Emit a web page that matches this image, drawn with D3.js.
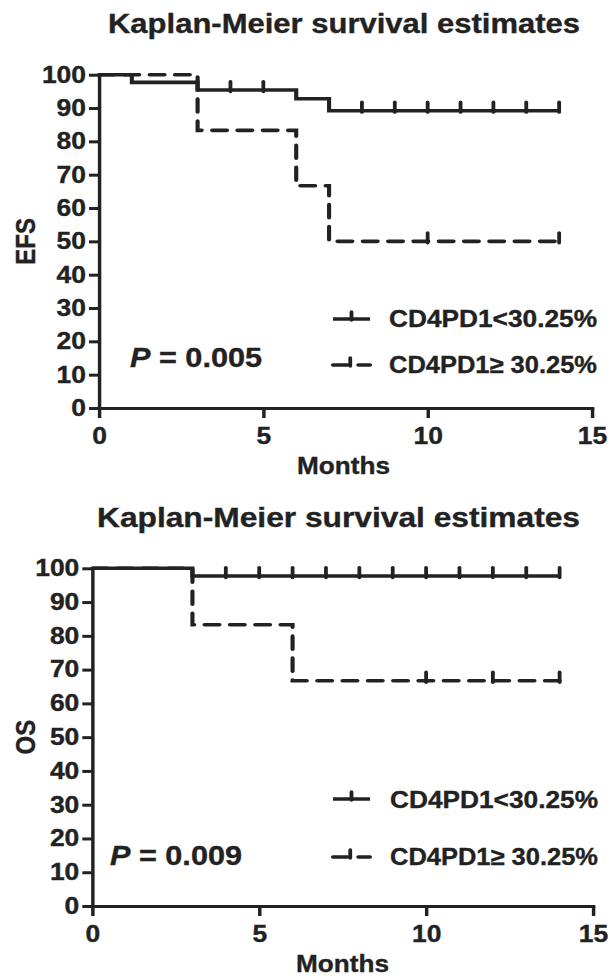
<!DOCTYPE html>
<html>
<head>
<meta charset="utf-8">
<script src="https://cdn.jsdelivr.net/npm/d3@7"></script>
<style>
  html, body { margin: 0; padding: 0; background: #fff; }
  svg { display: block; }
</style>
</head>
<body>
<svg id="chart"></svg>
<script>
// ---------------- DATA ----------------
const chartTitle = "Kaplan-Meier survival estimates";
const yLabels = ["EFS", "OS"];
const xLabel = "Months";
const legendLabels = ["CD4PD1<30.25%", "CD4PD1\u2265 30.25%"];
const pValues = ["0.005", "0.009"];
const xTicks = [0, 5, 10, 15];
const yTicks = [0, 10, 20, 30, 40, 50, 60, 70, 80, 90, 100];

// EFS, CD4PD1 < 30.25%
const efsLowTime   = [0, 1, 3, 6, 7, 14];
const efsLowSurv   = [100, 97.7, 95.4, 92.8, 89.2, 89.2];
const efsLowCensor = [4, 5, 8, 9, 10, 11, 12, 13, 14];
// EFS, CD4PD1 >= 30.25%
const efsHighTime   = [0, 3, 6, 7, 14];
const efsHighSurv   = [100, 83.3, 66.7, 50, 50];
const efsHighCensor = [10, 14];
// OS, CD4PD1 < 30.25%
const osLowTime   = [0, 3, 14];
const osLowSurv   = [100, 97.7, 97.7];
const osLowCensor = [4, 5, 6, 7, 8, 9, 10, 11, 12, 13, 14];
// OS, CD4PD1 >= 30.25%
const osHighTime   = [0, 3, 6, 14];
const osHighSurv   = [100, 83.3, 66.7, 66.7];
const osHighCensor = [10, 12, 14];

// ---------------- LAYOUT ----------------
const S = 1.15;                 // horizontal stretch of the original figure
const W = 616 / S, H = 980;
const X = px => px / S;
const INK = "#222";
const FONT = "'Liberation Sans', Arial, Helvetica, sans-serif";

const panels = [
  { ylabel: yLabels[0], p: pValues[0],
    series: [
      { time: efsLowTime, surv: efsLowSurv, censor: efsLowCensor, dashed: false },
      { time: efsHighTime, surv: efsHighSurv, censor: efsHighCensor, dashed: true }
    ],
    L: { x0: 99, x1: 592, yTop: 74.7, yBot: 408, titleX: 108, titleW: 472, titleY: 33, ylabX: 25,
         monthsX: 297, monthsW: 93, monthsY: 474, legY: [319, 365], legTextY: [327, 373],
         legX0: 333, legX1: 370, legTextX: 389, legTextW: 208, pX: 130, pW: 132, pY: 367 } },
  { ylabel: yLabels[1], p: pValues[1],
    series: [
      { time: osLowTime, surv: osLowSurv, censor: osLowCensor, dashed: false },
      { time: osHighTime, surv: osHighSurv, censor: osHighCensor, dashed: true }
    ],
    L: { x0: 92.3, x1: 593, yTop: 568.3, yBot: 906, titleX: 97, titleW: 483, titleY: 527, ylabX: 25,
         monthsX: 296, monthsW: 93, monthsY: 972, legY: [799, 857], legTextY: [808, 865],
         legX0: 333, legX1: 370, legTextX: 390, legTextW: 208, pX: 110, pW: 132, pY: 865 } }
];

const svg = d3.select("#chart")
  .attr("width", 616).attr("height", 980)
  .attr("viewBox", `0 0 ${W} ${H}`)
  .attr("preserveAspectRatio", "none");

const DASH = "13,9";
const LW = 3.6;
const TXT_STROKE = 0.35;

function addText(g, xpx, ypx, widthPx, size, str) {
  const t = g.append("text").attr("x", X(xpx)).attr("y", ypx)
    .attr("font-family", FONT).attr("font-weight", "bold").attr("font-size", size)
    .attr("fill", INK).attr("stroke", INK).attr("stroke-width", TXT_STROKE);
  if (widthPx) t.attr("textLength", X(widthPx)).attr("lengthAdjust", "spacingAndGlyphs");
  if (str !== null) t.text(str);
  return t;
}

panels.forEach(panel => {
  const L = panel.L;
  const x = d3.scaleLinear().domain([0, 15]).range([X(L.x0), X(L.x1)]);
  const y = d3.scaleLinear().domain([0, 100]).range([L.yBot, L.yTop]);
  const g = svg.append("g");

  // title
  addText(g, L.titleX, L.titleY, L.titleW, 27, chartTitle);

  // axes
  const yAxis = g.append("g").attr("transform", `translate(${x(0)},0)`)
    .call(d3.axisLeft(y).tickValues(yTicks).tickSize(X(10)).tickSizeOuter(0).tickPadding(X(3)));
  const xAxis = g.append("g").attr("transform", `translate(0,${y(0)})`)
    .call(d3.axisBottom(x).tickValues(xTicks).tickSize(10).tickSizeOuter(0).tickPadding(6));
  [yAxis, xAxis].forEach(a => {
    a.attr("font-family", FONT).attr("font-weight", "bold").attr("font-size", 23);
    a.select(".domain").attr("stroke", INK).attr("stroke-width", 3).attr("stroke-linecap", "square");
    a.selectAll(".tick line").attr("stroke", INK).attr("stroke-width", 3);
    a.selectAll(".tick text").attr("fill", INK).attr("stroke", INK).attr("stroke-width", TXT_STROKE);
  });
  xAxis.selectAll(".tick text").attr("dy", "0.85em");

  // axis labels
  addText(g, L.monthsX, L.monthsY, L.monthsW, 24, xLabel);
  const ymid = (L.yTop + L.yBot) / 2;
  g.append("text").attr("transform", `translate(${X(L.ylabX)},${ymid}) rotate(-90)`)
    .attr("text-anchor", "middle").attr("dy", "0.35em").attr("font-family", FONT).attr("font-weight", "bold")
    .attr("font-size", 24).attr("fill", INK).attr("stroke", INK).attr("stroke-width", TXT_STROKE)
    .text(panel.ylabel);

  // curves
  const line = d3.line().curve(d3.curveStepAfter).x(d => x(d[0])).y(d => y(d[1]));
  panel.series.forEach(s => {
    const pts = s.time.map((t, i) => [t, s.surv[i]]);
    g.append("path").attr("d", line(pts)).attr("fill", "none")
      .attr("stroke", INK).attr("stroke-width", LW)
      .attr("stroke-dasharray", s.dashed ? DASH : null)
      .attr("stroke-linecap", s.dashed ? "round" : "butt")
      .attr("stroke-linejoin", "miter");
    const survAt = t => { let v = s.surv[0]; s.time.forEach((tt, i) => { if (tt <= t) v = s.surv[i]; }); return v; };
    g.selectAll(null).data(s.censor).enter().append("line")
      .attr("x1", d => x(d)).attr("x2", d => x(d))
      .attr("y1", d => y(survAt(d)) - 8.5).attr("y2", d => y(survAt(d)) + 1.5)
      .attr("stroke", INK).attr("stroke-width", X(3.8)).attr("stroke-linecap", "round");
  });

  // legend
  panel.series.forEach((s, i) => {
    const ly = L.legY[i];
    g.append("line").attr("x1", X(L.legX0)).attr("x2", X(L.legX1)).attr("y1", ly).attr("y2", ly)
      .attr("stroke", INK).attr("stroke-width", LW)
      .attr("stroke-dasharray", s.dashed ? DASH : null)
      .attr("stroke-linecap", s.dashed ? "round" : "butt");
    const mx = s.dashed ? X(L.legX0) + 15 : X((L.legX0 + L.legX1) / 2);
    g.append("line").attr("x1", mx).attr("x2", mx).attr("y1", ly - 7).attr("y2", ly + 1)
      .attr("stroke", INK).attr("stroke-width", X(3.8)).attr("stroke-linecap", "round");
    addText(g, L.legTextX, L.legTextY[i], L.legTextW, 24, legendLabels[i]);
  });

  // p-value
  const pt = addText(g, L.pX, L.pY, L.pW, 27, null);
  pt.append("tspan").attr("font-style", "italic").text("P");
  pt.append("tspan").text(" = " + panel.p);
});
</script>
</body>
</html>
